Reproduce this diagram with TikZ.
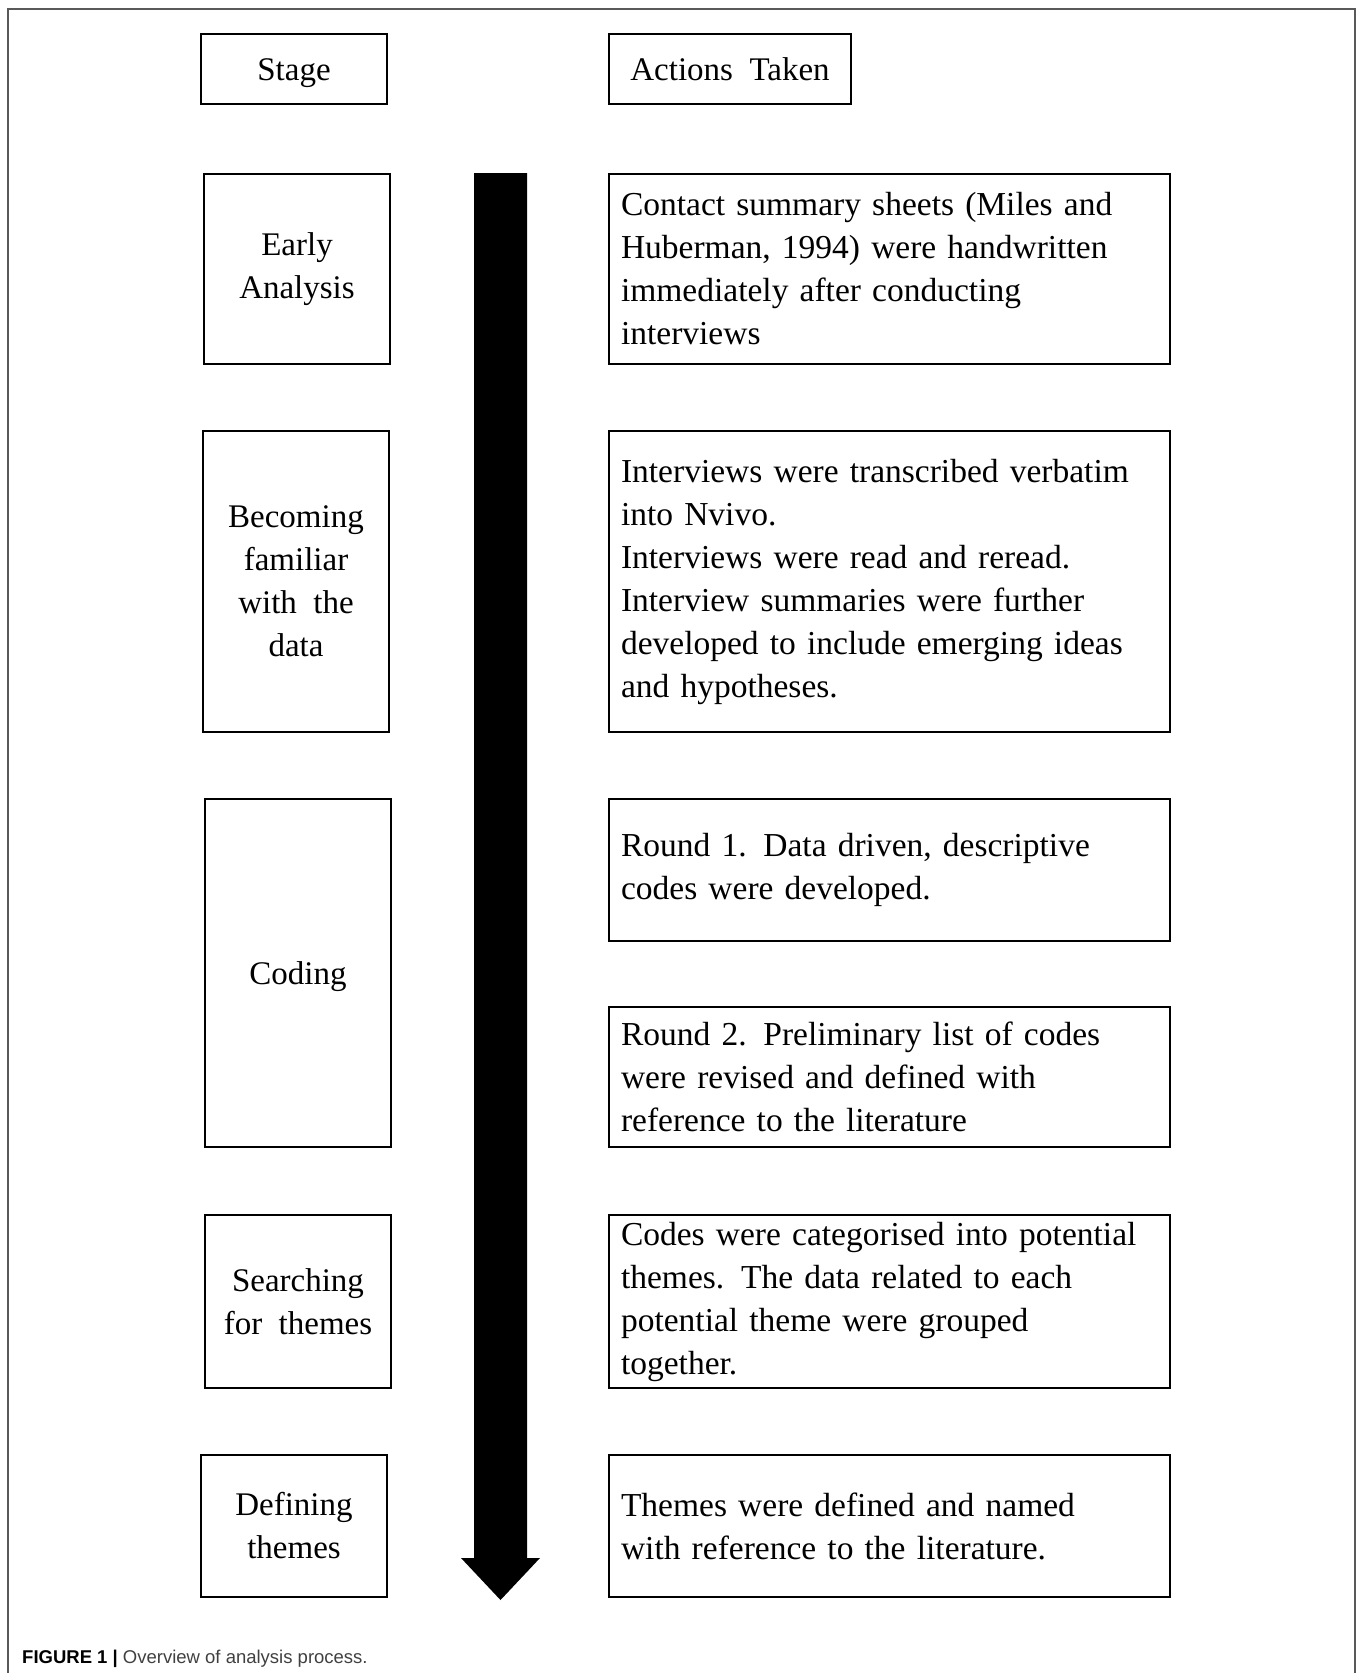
\documentclass[tikz,border=0pt]{standalone}
\usepackage{fontspec}
\setmainfont{Liberation Serif}[WordSpace=2.0]
\newfontfamily\capfont{Liberation Sans}
\usepackage{xcolor}
\usepackage{tikz}
\usetikzlibrary{calc, positioning}

\begin{document}
\begin{tikzpicture}[x=1pt, y=-1pt,
    box/.style={draw, line width=2pt, inner sep=0pt},
    stagebox/.style={box, align=center, minimum width=186pt, font=\fontsize{33}{43}\selectfont},
    actionbox/.style={box, align=left, minimum width=561pt, text width=537pt, font=\fontsize{33.5}{43}\selectfont}]
    % --- KHUNG VA LE ---
    \useasboundingbox (0,0) rectangle (1358,1673);
    \draw[line width=2pt, black!65] (7.5,1673) -- (7.5,8.5) -- (1355,8.5) -- (1355,1673);

    % Tieu de hai cot
    \node[stagebox, minimum height=70pt, text height=23pt, text depth=0pt] (stage) at (294,69) {Stage};
    \node[box, minimum width=242pt, minimum height=70pt, font=\fontsize{33}{43}\selectfont] (actions) at (730,69) {Actions Taken};

    % Cot giai doan
    \node[stagebox, minimum height=190pt] (early) at (297,269) {Early\\Analysis};
    \node[stagebox, minimum height=301pt] (familiar) at (296,581.5) {Becoming\\familiar\\with the\\data};
    \node[stagebox, minimum height=348pt, text height=23pt, text depth=0pt] (coding) at (298,973) {Coding};
    \node[stagebox, minimum height=173pt] (searching) at (298,1301.5) {Searching\\for themes};
    \node[stagebox, minimum height=142pt] (defining) at (294,1526) {Defining\\themes};

    % Cot hanh dong
    \node[actionbox, minimum height=190pt] (contact) at (889.5,269)
        {Contact summary sheets (Miles and\\Huberman, 1994) were handwritten\\immediately after conducting\\interviews};
    \node[actionbox, minimum height=301pt] (transcribe) at (889.5,581.5)
        {Interviews were transcribed verbatim\\into Nvivo.\\Interviews were read and reread.\\Interview summaries were further\\developed to include emerging ideas\\and hypotheses.};
    \node[actionbox, minimum height=142pt] (roundone) at (889.5,870)
        {Round 1. Data driven, descriptive\\codes were developed.};
    \node[actionbox, minimum height=140pt] (roundtwo) at (889.5,1077)
        {Round 2. Preliminary list of codes\\were revised and defined with\\reference to the literature};
    \node[actionbox, minimum height=173pt] (categorise) at (889.5,1301.5)
        {Codes were categorised into potential\\themes. The data related to each\\potential theme were grouped\\together.};
    \node[actionbox, minimum height=142pt] (named) at (889.5,1526)
        {Themes were defined and named\\with reference to the literature.};

    % Mui ten lon chay doc
    \coordinate (flowtop) at (500.5,173);
    \coordinate (flowtip) at (500.5,1600);
    \fill ($(flowtop)+(-26.5,0)$) -- ($(flowtop)+(26.5,0)$) -- ($(flowtip)+(26.5,-42)$)
        -- ($(flowtip)+(39.5,-42)$) -- (flowtip) -- ($(flowtip)+(-39.5,-42)$)
        -- ($(flowtip)+(-26.5,-42)$) -- cycle;

    % Chu thich hinh
    \node[anchor=base west, inner sep=0pt, text=black!75, font=\capfont\fontsize{18.5}{21}\selectfont] (caption) at (22,1663)
        {\textcolor{black}{\bfseries FIGURE 1 |} Overview of analysis process.};
\end{tikzpicture}
\end{document}
